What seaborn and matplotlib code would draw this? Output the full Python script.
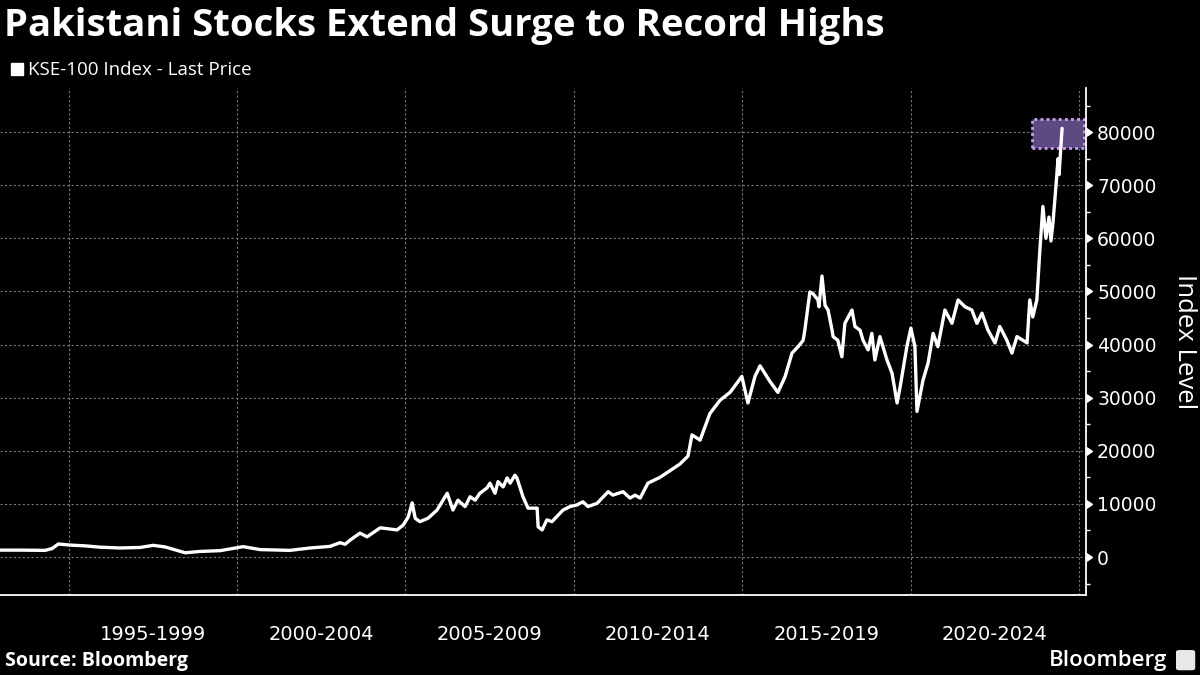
import matplotlib
matplotlib.use("Agg")
import matplotlib.pyplot as plt
import matplotlib.transforms as mtransforms
from matplotlib.patches import Rectangle, FancyBboxPatch
from matplotlib.lines import Line2D
import seaborn as sns
import pandas as pd

# KSE-100 index, values (decimal year, index level)
years = [1992.96, 1993.56, 1994.30, 1994.51, 1994.69, 1995.04, 1995.49, 1995.93, 1996.53,
         1997.12, 1997.51, 1997.86, 1998.46, 1998.90, 1999.50, 2000.18, 2000.68, 2001.57,
         2002.17, 2002.76, 2003.06, 2003.21, 2003.36, 2003.65, 2003.86, 2004.25, 2004.75,
         2004.93, 2005.08, 2005.20, 2005.29, 2005.43, 2005.67, 2005.94, 2006.24, 2006.41,
         2006.56, 2006.77, 2006.92, 2007.07, 2007.21, 2007.42, 2007.51, 2007.66, 2007.75,
         2007.90, 2008.02, 2008.11, 2008.25, 2008.31, 2008.49, 2008.64, 2008.91, 2008.94,
         2009.06, 2009.20, 2009.35, 2009.68, 2009.89, 2010.09, 2010.27, 2010.42, 2010.69,
         2011.02, 2011.16, 2011.46, 2011.67, 2011.82, 2011.97, 2012.20, 2012.56, 2013.15,
         2013.39, 2013.51, 2013.75, 2014.04, 2014.34, 2014.64, 2014.99, 2015.17, 2015.38,
         2015.53, 2015.83, 2016.06, 2016.27, 2016.48, 2016.66, 2016.81, 2016.86, 2017.01,
         2017.10, 2017.25, 2017.28, 2017.37, 2017.46, 2017.55, 2017.67, 2017.70, 2017.84,
         2017.96, 2018.05, 2018.26, 2018.35, 2018.50, 2018.59, 2018.74, 2018.85, 2018.94,
         2019.09, 2019.30, 2019.45, 2019.60, 2019.69, 2019.89, 2020.01, 2020.13, 2020.19,
         2020.37, 2020.52, 2020.67, 2020.81, 2021.02, 2021.23, 2021.41, 2021.62, 2021.82,
         2021.97, 2022.12, 2022.30, 2022.51, 2022.65, 2022.86, 2023.01, 2023.16, 2023.34,
         2023.46, 2023.54, 2023.63, 2023.75, 2023.84, 2023.93, 2024.02, 2024.11, 2024.17,
         2024.23, 2024.32, 2024.38, 2024.41, 2024.47, 2024.50]
values = [1300, 1300, 1250, 1600, 2450, 2250, 2100, 1850, 1700,
          1800, 2200, 1900, 800, 1050, 1200, 1950, 1400, 1250,
          1700, 2000, 2700, 2400, 3200, 4500, 3800, 5500, 5100,
          6000, 7500, 10200, 7300, 6650, 7300, 8850, 12000, 8850,
          10700, 9500, 11350, 10700, 12000, 13000, 13900, 12000, 14200,
          13200, 14900, 13900, 15400, 14900, 11350, 9200, 9200, 5700,
          5100, 7000, 6650, 8850, 9500, 9800, 10400, 9500, 10100,
          12300, 11650, 12300, 11100, 11650, 11100, 13900, 15000, 17500,
          19000, 23000, 22000, 27000, 29500, 31000, 34000, 29000, 34000,
          36000, 33000, 31000, 33900, 38400, 39600, 40800, 42700, 49900,
          49600, 48400, 47100, 52900, 47400, 46500, 42700, 41500, 40800,
          37700, 44000, 46500, 43400, 42700, 40800, 39000, 42100, 37100,
          41500, 37100, 34600, 29000, 32000, 39600, 43100, 39600, 27400,
          33300, 36500, 42100, 39600, 46500, 44000, 48400, 47100, 46500,
          44000, 45900, 42700, 40300, 43400, 40800, 38400, 41500, 40800,
          40300, 48400, 45200, 48400, 57800, 66000, 60000, 64000, 59500,
          63000, 70000, 75000, 72000, 78000, 80700]

period_labels = ["1995-1999", "2000-2004", "2005-2009", "2010-2014", "2015-2019", "2020-2024"]
period_starts = [1995, 2000, 2005, 2010, 2015, 2020]
y_major = [0, 10000, 20000, 30000, 40000, 50000, 60000, 70000, 80000]
y_minor = [-5000, 5000, 15000, 25000, 35000, 45000, 55000, 65000, 75000, 85000]

df = pd.DataFrame({"year": years, "level": values})

sns.set_style("dark")
plt.rcParams["font.family"] = ["DejaVu Sans"]

fig = plt.figure(figsize=(12, 6.75), dpi=100, facecolor="black")
ax = fig.add_axes([0.0, 1 - 595 / 675, 1086 / 1200, (595 - 88) / 675])
ax.set_facecolor("black")

# highlighted record area
ax.add_patch(Rectangle((2023.6, 77000), 1.55, 5450, facecolor="#5e4a82",
                       edgecolor="#c9a3f2", linestyle=(0, (1, 1.2)), linewidth=2, zorder=2))

sns.lineplot(data=df, x="year", y="level", ax=ax, color="white", linewidth=2.4,
             sort=False, estimator=None, zorder=3)

ax.set_xlim(1992.96, 2025.21)
ax.set_ylim(-7150, 88300)

# x axis: year ticks and 5-year separators
ax.set_xticks(period_starts + [2025])
ax.set_xticks(range(1993, 2025), minor=True)
ax.set_xticklabels([])
ax.tick_params(axis="x", which="major", direction="out", length=40, width=1, color="#9a9a9a")
ax.tick_params(axis="x", which="minor", direction="out", length=3.5, width=1, color="white")
lbl_tr = mtransforms.blended_transform_factory(ax.transData, ax.transAxes)
for start, lab in zip(period_starts, period_labels):
    ax.text(start + 2.5, -0.077, lab, transform=lbl_tr, ha="center", va="center",
            color="white", fontsize=14)

# y axis on the right
ax.yaxis.tick_right()
ax.set_yticks(y_major)
ax.set_yticks(y_minor, minor=True)
ax.set_yticklabels([str(v) for v in y_major])
ax.tick_params(axis="y", which="major", direction="out", length=4, width=1, color="white",
               labelcolor="white", labelsize=13.5, pad=4, left=False, right=True)
ax.tick_params(axis="y", which="minor", direction="out", length=3, width=1, color="white",
               left=False, right=True)
for t in ax.yaxis.get_major_ticks():
    t.tick2line.set_marker(9)
    t.tick2line.set_markersize(6)

ax.grid(True, which="major", color="#777777", linestyle=(0, (2, 2)), linewidth=0.8)
ax.grid(False, which="minor")
ax.set_xlabel("")
ax.set_ylabel("")
for side in ["left", "top"]:
    ax.spines[side].set_visible(False)
for side in ["right", "bottom"]:
    ax.spines[side].set_visible(True)
    ax.spines[side].set_color("white")
    ax.spines[side].set_linewidth(1.3)

fig.text(0.9875, 0.494, "Index Level", rotation=270, ha="center", va="center",
         color="white", fontsize=18.5, family="Open Sans")

fig.text(0.003, 0.962, "Pakistani Stocks Extend Surge to Record Highs", ha="left", va="center",
         color="white", fontsize=27.5, fontweight="bold", family="Open Sans")

handle = Line2D([], [], marker="s", color="white", linestyle="none", markersize=9)
fig.legend([handle], ["KSE-100 Index - Last Price"], loc="center left",
           bbox_to_anchor=(0.0, 0.896), frameon=False, handletextpad=0.1,
           borderaxespad=0, handlelength=1.0, labelcolor="white",
           prop={"family": "Open Sans", "size": 13.5})

fig.text(0.004, 0.021, "Source: Bloomberg", ha="left", va="center", color="white",
         fontsize=14, fontweight="bold", family="Open Sans")
fig.text(0.973, 0.021, "Bloomberg", ha="right", va="center", color="white",
         fontsize=16, fontweight="semibold", family="Open Sans")
fig.patches.append(FancyBboxPatch((0.981, 0.008), 0.014, 0.028, transform=fig.transFigure,
                                  boxstyle="round,pad=0.001,rounding_size=0.003",
                                  facecolor="#e8e8e8", edgecolor="none"))

fig.savefig("out.png", dpi=100, facecolor="black")
